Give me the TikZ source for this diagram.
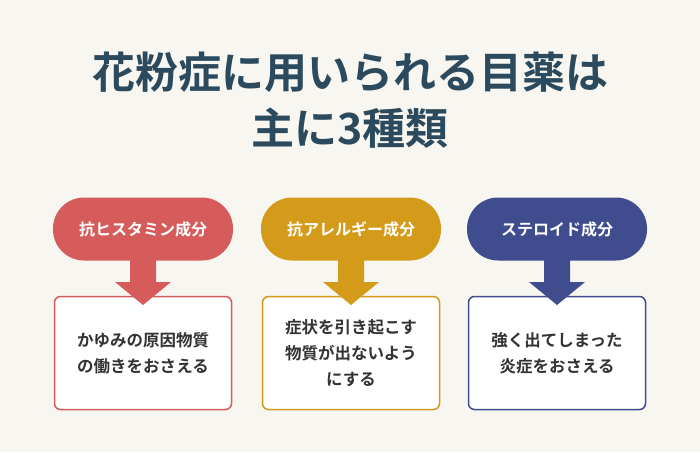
\documentclass[tikz,border=0pt]{standalone}
\usepackage{fontspec}
\setmainfont{Noto Sans CJK JP}[BoldFont={* Bold}]
\begin{document}
\begin{tikzpicture}[x=1pt,y=-1pt,
 pill/.style={rounded corners=31pt,fill=#1,minimum width=180pt,minimum height=63pt,text=white,font=\bfseries\fontsize{16}{20}\selectfont},
 box/.style={draw=#1,line width=1.5pt,rounded corners=6pt,fill=white,minimum width=177pt,minimum height=113pt,align=center,text=black!80,font=\bfseries\fontsize{16.5}{26}\selectfont}]
\definecolor{bg}{HTML}{F8F6F0}
\definecolor{navy}{HTML}{2B4A5E}
\definecolor{cr}{HTML}{D65C5C}
\definecolor{cg}{HTML}{D49A1A}
\definecolor{cb}{HTML}{3F4C8E}
\fill[bg] (0,0) rectangle (700,452);
\useasboundingbox (0,0) rectangle (700,452);
\node[text=navy,font=\bfseries\fontsize{43}{50}\selectfont] (t1) at (350,72) {花粉症に用いられる目薬は};
\node[text=navy,font=\bfseries\fontsize{43}{50}\selectfont] (t2) at (350,128) {主に3種類};
\foreach \c/\x/\p/\b [count=\i] in {cr/143/抗ヒスタミン成分/{かゆみの原因物質\\の働きをおさえる},
 cg/351/抗アレルギー成分/{症状を引き起こす\\物質が出ないよう\\にする},
 cb/557/ステロイド成分/{強く出てしまった\\炎症をおさえる}}{
 \node[box=\c] (b\i) at (\x,353) {\b};
 \node[pill=\c] (p\i) at (\x,229) {\p};
 \fill[\c] (\x-13,255) -- (\x-13,282) -- (\x-28,282) -- (\x,305) -- (\x+28,282) -- (\x+13,282) -- (\x+13,255) -- cycle;
}
\end{tikzpicture}
\end{document}
